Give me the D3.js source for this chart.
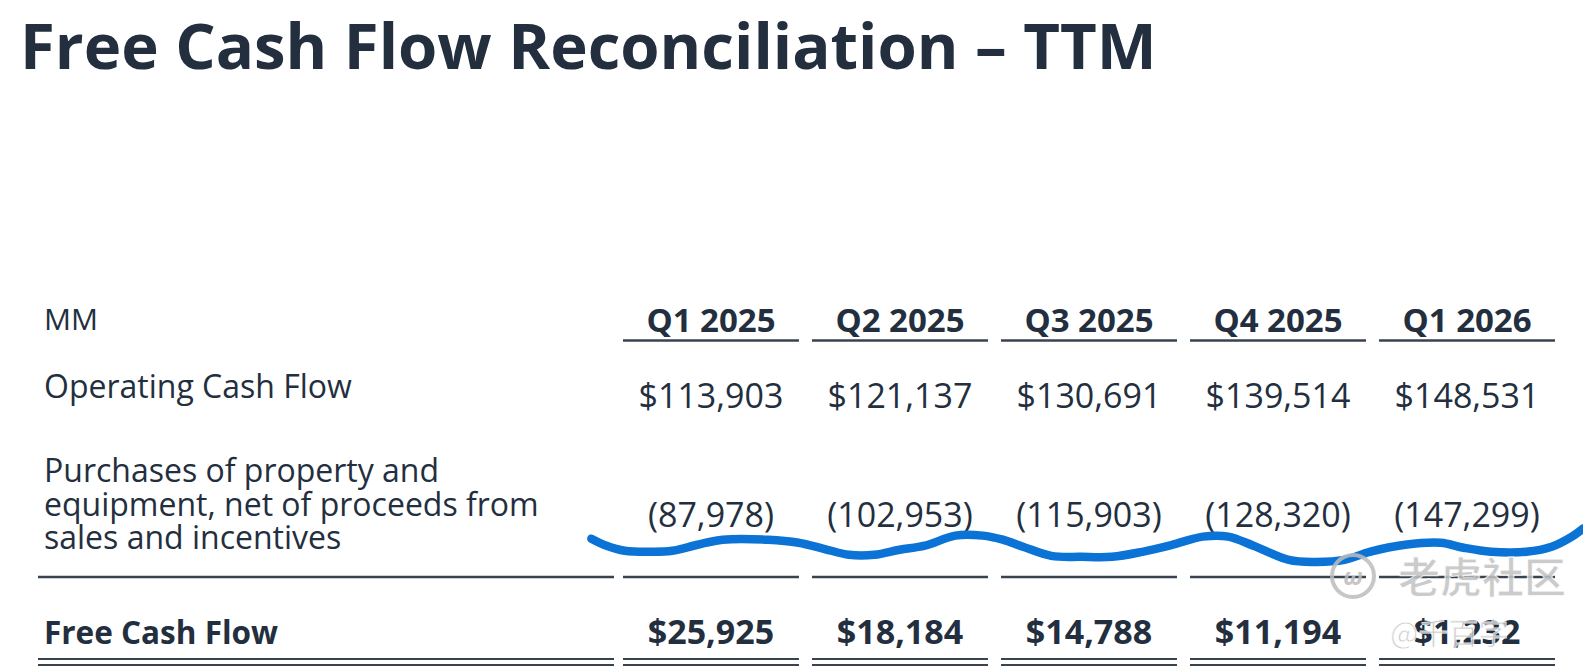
<!DOCTYPE html>
<html lang="en">
<head>
  <meta charset="UTF-8" />
  <script src="https://d3js.org/d3.v7.min.js"></script>
  <title>Free Cash Flow Reconciliation – TTM</title>
  <style>
    html, body { margin: 0; padding: 0; background: #fff; }
    svg { display: block; }
  </style>
</head>
<body>
  <div id="chart"></div>
  <script>
    // table data
    const quarters = ["Q1 2025", "Q2 2025", "Q3 2025", "Q4 2025", "Q1 2026"];
    const operatingCashFlow = [113903, 121137, 130691, 139514, 148531];
    const capex = [-87978, -102953, -115903, -128320, -147299];
    const freeCashFlow = [25925, 18184, 14788, 11194, 1232];
    const rowLabels = [
      ["Operating Cash Flow"],
      ["Purchases of property and", "equipment, net of proceeds from", "sales and incentives"],
      ["Free Cash Flow"]
    ];

    // hand-drawn blue scribble over the table
    const scribbleX = [585, 600, 618, 645, 665, 690, 715, 760, 790, 815, 840, 865, 890, 915, 945, 972, 992, 1012, 1040, 1070, 1100, 1130, 1160, 1190, 1215, 1240, 1275, 1300, 1330, 1355, 1390, 1425, 1448, 1475, 1510, 1535, 1555, 1566];
    const scribbleY = [533, 540, 545, 546, 545, 539, 534, 534, 537, 543, 549, 549, 544, 540, 530, 530, 534, 541, 550, 551, 551, 546, 539, 531, 531, 540, 554, 556, 554, 546, 539, 537, 542, 546, 546, 541, 531, 523];

    const width = 1583, height = 666;
    const ink = "#232f3e";
    const rule = "#39434f";
    const fontFam = "'Open Sans', 'Noto Sans', sans-serif";
    const fmt = d3.format(",");

    const svg = d3.select("#chart").append("svg")
      .attr("width", width)
      .attr("height", height);

    const x = d3.scaleBand()
      .domain(quarters)
      .range([623, 1555])
      .paddingInner(0.069)
      .paddingOuter(0);

    // picture-reading coords -> page coords
    const px = d3.scaleLinear().domain([0, 1566]).range([0, width]);
    const py = d3.scaleLinear().domain([0, 659]).range([0, height]);

    // title
    svg.append("text")
      .attr("x", 20)
      .attr("y", 69)
      .attr("fill", ink)
      .attr("font-family", fontFam)
      .attr("font-weight", 700)
      .attr("font-size", "63.5px")
      .text("Free Cash Flow Reconciliation – TTM");

    // header
    svg.append("text")
      .attr("x", 44)
      .attr("y", 330)
      .attr("fill", ink)
      .attr("font-family", fontFam)
      .attr("font-size", "30px")
      .text("MM");

    const cols = svg.selectAll("g.col")
      .data(quarters)
      .join("g")
      .attr("class", "col");

    cols.append("text")
      .attr("x", d => x(d) + x.bandwidth() / 2)
      .attr("y", 332)
      .attr("text-anchor", "middle")
      .attr("fill", ink)
      .attr("font-family", fontFam)
      .attr("font-weight", 700)
      .attr("font-size", "33px")
      .text(d => d);

    cols.append("line")
      .attr("x1", d => x(d)).attr("x2", d => x(d) + x.bandwidth())
      .attr("y1", 340.5).attr("y2", 340.5)
      .attr("stroke", rule).attr("stroke-width", 2.5);

    // row labels
    const labelY = [[398], [482, 515.5, 549], [644]];
    rowLabels.forEach((lines, i) => {
      lines.forEach((t, j) => {
        svg.append("text")
          .attr("x", 44)
          .attr("y", labelY[i][j])
          .attr("fill", ink)
          .attr("font-family", fontFam)
          .attr("font-weight", i === 2 ? 700 : 400)
          .attr("font-size", i === 2 ? "31.5px" : "32px")
          .text(t);
      });
    });

    // values
    const rows = [
      { vals: operatingCashFlow, y: 407.5, bold: false, f: v => "$" + fmt(v) },
      { vals: capex, y: 526.5, bold: false, f: v => "(" + fmt(-v) + ")" },
      { vals: freeCashFlow, y: 644, bold: true, f: v => "$" + fmt(v) }
    ];
    rows.forEach(r => {
      svg.selectAll(null)
        .data(r.vals)
        .join("text")
        .attr("x", (d, i) => x(quarters[i]) + x.bandwidth() / 2)
        .attr("y", r.y)
        .attr("text-anchor", "middle")
        .attr("fill", ink)
        .attr("font-family", fontFam)
        .attr("font-weight", r.bold ? 700 : 400)
        .attr("font-size", "34px")
        .text(r.f);
    });

    // rules: single above total, double below total
    const spans = [[38, 614]].concat(quarters.map(q => [x(q), x(q) + x.bandwidth()]));
    spans.forEach(s => {
      svg.append("line")
        .attr("x1", s[0]).attr("x2", s[1])
        .attr("y1", 577).attr("y2", 577)
        .attr("stroke", rule).attr("stroke-width", 2.5);
      [659, 665].forEach(yy => {
        svg.append("line")
          .attr("x1", s[0]).attr("x2", s[1])
          .attr("y1", yy).attr("y2", yy)
          .attr("stroke", rule).attr("stroke-width", 2.2);
      });
    });

    // scribble
    const scribble = scribbleX.map((v, i) => [v, scribbleY[i]]);
    svg.append("path")
      .datum(scribble)
      .attr("fill", "none")
      .attr("stroke", "#0b73d6")
      .attr("stroke-width", 8.5)
      .attr("stroke-linecap", "round")
      .attr("stroke-linejoin", "round")
      .attr("d", d3.line().x(d => px(d[0])).y(d => py(d[1])).curve(d3.curveCatmullRom));

    // watermark
    const wm = svg.append("g").attr("opacity", 0.85);
    wm.append("circle")
      .attr("cx", 1353).attr("cy", 576).attr("r", 21)
      .attr("fill", "none").attr("stroke", "#bdbdbd").attr("stroke-width", 4);
    wm.append("text")
      .attr("x", 1353).attr("y", 585)
      .attr("text-anchor", "middle")
      .attr("fill", "#bdbdbd")
      .attr("font-family", fontFam)
      .attr("font-weight", 700)
      .attr("font-style", "italic")
      .attr("font-size", "24px")
      .text("ω");
    wm.append("text")
      .attr("x", 1398).attr("y", 593)
      .attr("fill", "#c2c2c2")
      .attr("stroke", "#fff").attr("stroke-width", 1)
      .attr("font-family", "'Noto Sans CJK SC'")
      .attr("font-weight", 700)
      .attr("font-size", "42px")
      .text("老虎社区");
    wm.append("text")
      .attr("x", 1390).attr("y", 644)
      .attr("fill", "#c2c2c2")
      .attr("stroke", "#fff").attr("stroke-width", 0.8)
      .attr("font-family", "'Noto Sans CJK SC'")
      .attr("font-size", "30px")
      .text("@千百字");
  </script>
</body>
</html>
